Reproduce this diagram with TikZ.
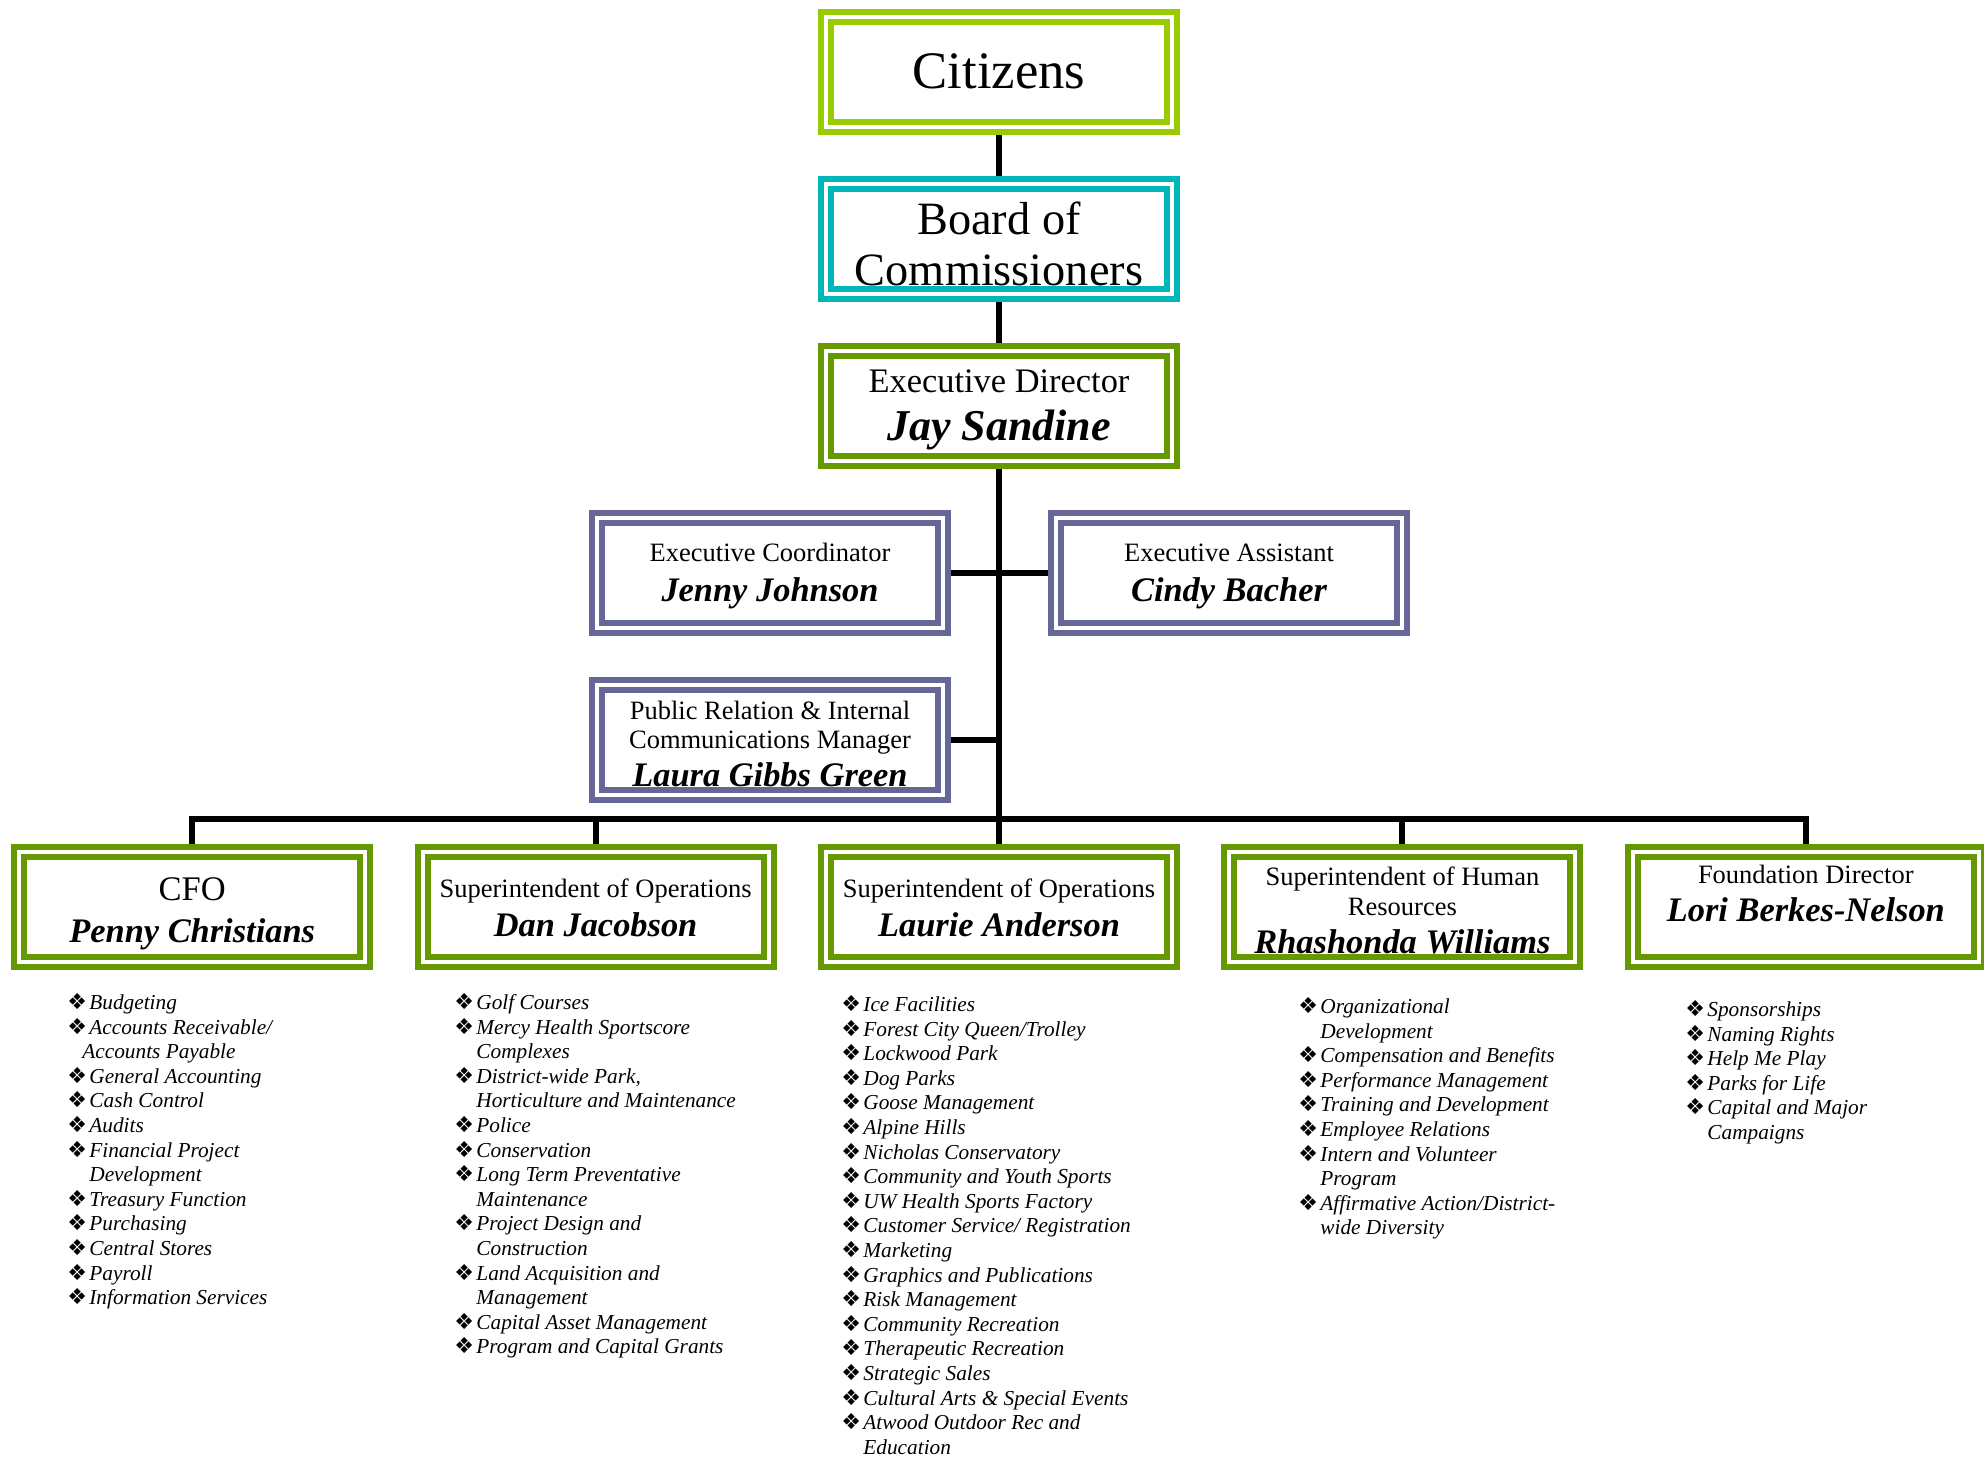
\documentclass[tikz,border=0pt]{standalone}
\usepackage{fontspec}
\setmainfont{Liberation Serif}
\newfontfamily\dejavu{DejaVu Sans}
\usepackage{tikz}
\usetikzlibrary{backgrounds}

\definecolor{citgreen}{RGB}{153,204,0}
\definecolor{boardteal}{RGB}{0,182,182}
\definecolor{leafgreen}{RGB}{102,153,0}
\definecolor{slate}{RGB}{102,102,153}

\newcommand{\titlefont}{\fontsize{13.25}{15}\selectfont}
\newcommand{\namefont}{\fontsize{17.2}{20}\selectfont\bfseries\itshape}
\newcommand{\bul}{\makebox[11pt][l]{\dejavu\upshape\fontsize{11}{11}\selectfont ❖}}
\newcommand{\cnt}{\hspace*{11pt}}
\newcommand{\lstrut}{\rule{0pt}{9pt}}
\newcommand{\tstrut}[1]{\rule{0pt}{#1}}
\newcommand{\bstrut}[1]{\rule[-#1]{0pt}{#1}}

\tikzset{
  box/.style={draw=#1, double=white, double distance=2pt, line width=3pt, fill=white,
    minimum width=173pt, minimum height=55pt, inner sep=0pt, align=center, font=\titlefont},
  duties/.style={anchor=north west, inner sep=0pt, align=left,
    font=\fontsize{10.65}{12.3}\selectfont\itshape},
  link/.style={line width=3pt},
}

\begin{document}
\begin{tikzpicture}[x=0.5pt,y=-0.5pt]
    \useasboundingbox (0,0) rectangle (1984,1457);

    % top of the chart
    \node[box=citgreen, font=\fontsize{26.35}{30}\selectfont] (citizens) at (999,71.5) {Citizens};
    \node[box=boardteal, font=\fontsize{23.15}{25.5}\selectfont] (board) at (999,238.5)
        {\tstrut{22pt}Board of\\Commissioners};
    \node[box=leafgreen, font=\fontsize{17.2}{24}\selectfont] (director) at (999,405.5)
        {\tstrut{16pt}Executive Director\\{\fontsize{22}{24}\selectfont\bfseries\itshape Jay Sandine}};

    % staff
    \node[box=slate] (coordinator) at (770,572.7)
        {\tstrut{12.8pt}Executive Coordinator\\[5pt]{\namefont Jenny Johnson}};
    \node[box=slate] (assistant) at (1229,572.7)
        {\tstrut{12.8pt}Executive Assistant\\[5pt]{\namefont Cindy Bacher}};
    \node[box=slate] (relations) at (770,740)
        {\tstrut{13.1pt}Public Relation \& Internal\\[-0.5pt]Communications Manager\\[4.2pt]{\namefont Laura Gibbs Green}};

    % departments
    \node[box=leafgreen, font=\fontsize{17.25}{21}\selectfont] (cfo) at (192.2,906.5)
        {\tstrut{18.5pt}CFO\\{\namefont Penny Christians}};
    \node[box=leafgreen] (golf) at (595.6,906.5)
        {\tstrut{10.9pt}Superintendent of Operations\\[4.6pt]{\namefont Dan Jacobson}};
    \node[box=leafgreen] (recreation) at (999,906.5)
        {\tstrut{10.9pt}Superintendent of Operations\\[4.6pt]{\namefont Laurie Anderson}};
    \node[box=leafgreen] (hr) at (1402.4,906.5)
        {\tstrut{13.5pt}Superintendent of Human\\Resources\\[4pt]{\namefont Rhashonda Williams}};
    \node[box=leafgreen] (foundation) at (1805.8,906.5)
        {Foundation Director\\[4pt]{\namefont Lori Berkes-Nelson}\bstrut{13.5pt}};

    \coordinate (bus) at (999,819);

    \begin{scope}[on background layer]
        \draw[link] (citizens) -- (bus);
        \draw[link] (coordinator) -- (assistant);
        \draw[link] (relations) -- (relations -| bus);
        \draw[link, line cap=rect] (cfo |- bus) -- (foundation |- bus);
        \foreach \dept in {cfo,golf,recreation,hr,foundation}
            \draw[link] (\dept |- bus) -- (\dept);
    \end{scope}

    % duties under each department
    \node[duties] (cfolist) at (67,991) {\lstrut\bul Budgeting\\
        \bul Accounts Receivable/\\
        \hspace*{7.5pt}Accounts Payable\\
        \bul General Accounting\\
        \bul Cash Control\\
        \bul Audits\\
        \bul Financial Project\\
        \cnt Development\\
        \bul Treasury Function\\
        \bul Purchasing\\
        \bul Central Stores\\
        \bul Payroll\\
        \bul Information Services};
    \node[duties] (golflist) at (454,991) {\lstrut\bul Golf Courses\\
        \bul Mercy Health Sportscore\\
        \cnt Complexes\\
        \bul District-wide Park,\\
        \cnt Horticulture and Maintenance\\
        \bul Police\\
        \bul Conservation\\
        \bul Long Term Preventative\\
        \cnt Maintenance\\
        \bul Project Design and\\
        \cnt Construction\\
        \bul Land Acquisition and\\
        \cnt Management\\
        \bul Capital Asset Management\\
        \bul Program and Capital Grants};
    \node[duties] (reclist) at (841,993) {\lstrut\bul Ice Facilities\\
        \bul Forest City Queen/Trolley\\
        \bul Lockwood Park\\
        \bul Dog Parks\\
        \bul Goose Management\\
        \bul Alpine Hills\\
        \bul Nicholas Conservatory\\
        \bul Community and Youth Sports\\
        \bul UW Health Sports Factory\\
        \bul Customer Service/ Registration\\
        \bul Marketing\\
        \bul Graphics and Publications\\
        \bul Risk Management\\
        \bul Community Recreation\\
        \bul Therapeutic Recreation\\
        \bul Strategic Sales\\
        \bul Cultural Arts \& Special Events\\
        \bul Atwood Outdoor Rec and\\
        \cnt Education};
    \node[duties] (hrlist) at (1298,995) {\lstrut\bul Organizational\\
        \cnt Development\\
        \bul Compensation and Benefits\\
        \bul Performance Management\\
        \bul Training and Development\\
        \bul Employee Relations\\
        \bul Intern and Volunteer\\
        \cnt Program\\
        \bul Affirmative Action/District-\\
        \cnt wide Diversity};
    \node[duties] (foundlist) at (1685,998) {\lstrut\bul Sponsorships\\
        \bul Naming Rights\\
        \bul Help Me Play\\
        \bul Parks for Life\\
        \bul Capital and Major\\
        \cnt Campaigns};
\end{tikzpicture}
\end{document}
